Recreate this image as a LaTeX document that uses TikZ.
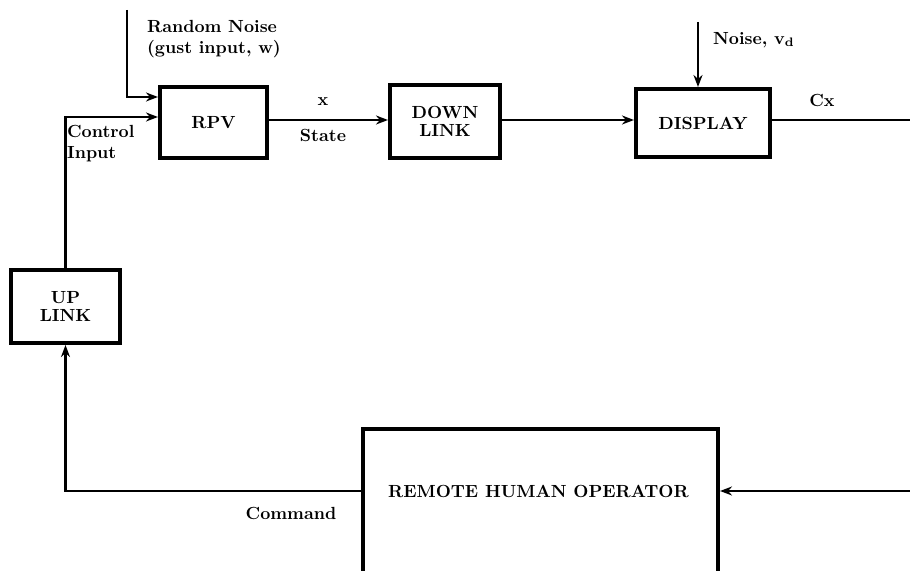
\documentclass[tikz,border=0pt]{standalone}
\usepackage{tikz}
\usetikzlibrary{arrows.meta, positioning, calc}
\tikzset{
  box/.style={draw, line width=2.3pt, minimum width=#1, minimum height=14.2mm, font=\bfseries, align=center, inner sep=1pt},
  arr/.style={-{Stealth[length=2.4mm, width=1.8mm]}, line width=1.7pt},
  wire/.style={line width=1.7pt},
  lbl/.style={font=\bfseries, align=left, inner sep=1pt},
}
\begin{document}
\begin{tikzpicture}[x=0.2mm, y=-0.2mm]
    \clip (0,0) rectangle (910,571);
    \node[box=21.4mm] (rpv) at (213.5,122.5) {RPV};
    \node[box=22mm, minimum height=14.6mm] (down) at (445,121.5) {DOWN\\[-2pt]LINK};
    \node[box=26.8mm, minimum height=13.6mm] (disp) at (703,123) {DISPLAY};
    \node[box=21.8mm, minimum height=14.6mm] (up) at (65.5,306.5) {UP\\[-2pt]LINK};
    \node[box=71mm, minimum height=38.2mm] (oper) at (540.5,524.5) {};
    \node[lbl, anchor=west] (opertxt) at (386,491) {REMOTE HUMAN OPERATOR};
    % free ends
    \coordinate (wtop) at (127,10);
    \coordinate (vdtop) at (698,22);
    \coordinate (cxend) at (912,120);
    \coordinate (fbin) at (912,491);
    % connectors
    \draw[arr] (wtop) |- ([yshift=5.1mm]rpv.west);
    \draw[arr] (up.north) |- ([yshift=1.1mm]rpv.west);
    \draw[arr] ([yshift=0.5mm]rpv.east) -- ([yshift=0.5mm]rpv.east -| down.west);
    \draw[arr] ([yshift=0.3mm]down.east) -- ([yshift=0.3mm]down.east -| disp.west);
    \draw[arr] (vdtop) -- (vdtop |- disp.north);
    \draw[wire] (cxend -| disp.east) -- (cxend);
    \draw[arr] (fbin) -- (fbin -| oper.east);
    \draw[arr] (fbin -| oper.west) -| (up.south);
    % labels
    \node[lbl, anchor=west] (wlbl) at (145,39) {Random Noise\\(gust input, w)};
    \node[lbl, anchor=west] (cilbl) at (65,144) {Control\\Input};
    \node[lbl] (xlbl) at (323,102) {x};
    \node[lbl] (stlbl) at (323,135) {State};
    \node[lbl, anchor=west] (vdlbl) at (711,40) {Noise, v\textsubscript{d}};
    \node[lbl] (cxlbl) at (822,100) {Cx};
    \node[lbl] (cmdlbl) at (291,513) {Command};
\end{tikzpicture}
\end{document}
